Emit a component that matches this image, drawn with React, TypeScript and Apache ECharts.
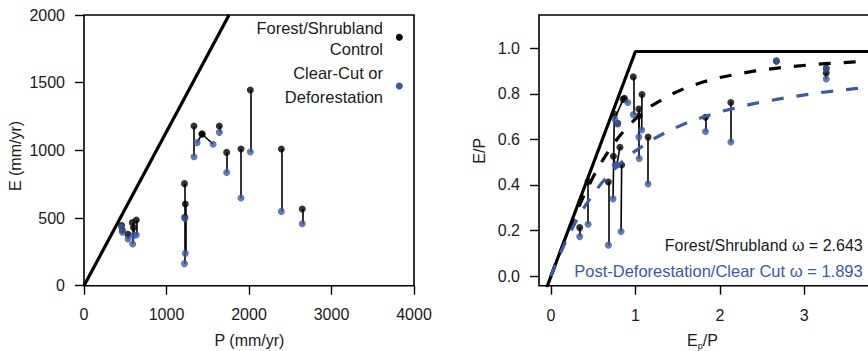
import React, { useEffect, useRef } from "react";
import * as echarts from "echarts";

// ---------- Left panel: P vs E (mm/yr) ----------
const leftControlP = [455, 465, 533, 586, 600, 634, 1218, 1228, 1222, 1333, 1431, 1431, 1640, 1729, 1903, 2016, 2392, 2646];
const leftControlE = [445, 410, 379, 466, 430, 485, 754, 603, 505, 1180, 1121, 1121, 1180, 985, 1010, 1446, 1010, 567];
const leftClearP = [455, 465, 533, 590, 600, 634, 1218, 1228, 1222, 1333, 1371, 1565, 1640, 1729, 1903, 2016, 2392, 2646];
const leftClearE = [432, 395, 345, 308, 370, 374, 163, 239, 497, 953, 1057, 1045, 1133, 837, 648, 988, 549, 458];
const leftLimitP = [0, 1758];
const leftLimitE = [0, 2000];

// ---------- Right panel: Ep/P vs E/P ----------
const rightControlX = [0.34, 0.44, 0.68, 0.75, 0.74, 0.855, 0.817, 0.837, 0.79, 0.975, 0.87, 1.078, 1.04, 1.045, 1.15, 1.83, 2.13, 2.67, 3.26, 3.26];
const rightControlY = [0.216, 0.421, 0.419, 0.722, 0.534, 0.787, 0.574, 0.495, 0.68, 0.887, 0.792, 0.809, 0.744, 0.714, 0.619, 0.707, 0.773, 0.957, 0.904, 0.925];
const rightClearX = [0.34, 0.44, 0.68, 0.735, 0.76, 0.755, 0.78, 0.83, 0.79, 0.975, 0.91, 1.074, 1.04, 1.045, 1.15, 1.83, 2.13, 2.67, 3.26, 3.26];
const rightClearY = [0.176, 0.231, 0.138, 0.344, 0.495, 0.7, 0.495, 0.199, 0.677, 0.719, 0.773, 0.651, 0.619, 0.524, 0.41, 0.644, 0.597, 0.96, 0.878, 0.923];

const limitX = [-0.05, 1, 4.5];
const limitY = [-0.05, 1, 1];

const curveX = [0, 0.1, 0.2, 0.3, 0.4, 0.5, 0.6, 0.7, 0.8, 0.9, 1.0, 1.2, 1.4, 1.6, 1.8, 2.0, 2.4, 2.8, 3.2, 3.6, 4.0];
const forestCurveY = [0, 0.0991, 0.1946, 0.2845, 0.3673, 0.4422, 0.5089, 0.5674, 0.6184, 0.6623, 0.7001, 0.7605, 0.8053, 0.8388, 0.8644, 0.8844, 0.9128, 0.9315, 0.9449, 0.954, 0.962];
const clearCurveY = [0, 0.0933, 0.1752, 0.2472, 0.3104, 0.3658, 0.4144, 0.4572, 0.4949, 0.5282, 0.5578, 0.6078, 0.648, 0.6811, 0.7084, 0.7315, 0.7682, 0.7958, 0.8176, 0.835, 0.8494];

const leftXTicks = { min: 0, max: 4000, interval: 1000 };
const leftYTicks = { min: 0, max: 2000, interval: 500 };
const rightXTicks = { min: 0, max: 4, interval: 1 };
const rightYTicks = { min: 0, max: 1, interval: 0.2 };

const FONT = "'Liberation Sans', Arial, Helvetica, sans-serif";
const BLUE = "#3a5aa8";
const BLACK = "#000000";
const TEXT = "#1a1a1a";

const tickStyle = { show: true, inside: false, length: 9, lineStyle: { color: BLACK, width: 1.4 } };
const labelStyle = { fontSize: 16, fontFamily: FONT, color: TEXT };
const noBounds = { outerBoundsMode: "none", containLabel: false };

function buildOption() {
  const pairs = (x1: number[], y1: number[], x2: number[], y2: number[]) =>
    x1.map((x, i) => ({ coords: [[x, y1[i]], [x2[i], y2[i]]] }));
  const zip = (a: number[], b: number[]) => a.map((v, i) => [v, b[i]]);

  return {
    animation: false,
    backgroundColor: "#ffffff",
    grid: [
      // 0: left panel
      { left: 84, width: 330, top: 15, height: 270.7, show: true, borderColor: BLACK, borderWidth: 1.6, backgroundColor: "transparent", ...noBounds },
      // 1: right panel data box
      { left: 539, width: 349.7, top: 15, height: 270.7, show: true, borderColor: BLACK, borderWidth: 1.6, backgroundColor: "transparent", ...noBounds },
      // 2: right panel x ticks (0..4)
      { left: 551, width: 337.7, top: 15, height: 270.7, show: false, ...noBounds },
      // 3: right panel y ticks (0..1)
      { left: 539, width: 349.7, top: 48.3, height: 227.7, show: false, ...noBounds },
    ],
    xAxis: [
      {
        gridIndex: 0, type: "value", ...leftXTicks,
        axisLine: { show: false }, axisTick: tickStyle, splitLine: { show: false },
        axisLabel: { ...labelStyle, margin: 21, formatter: (v: number) => String(v) },
      },
      { gridIndex: 1, type: "value", min: -0.142, max: 4, show: false, splitLine: { show: false } },
      {
        gridIndex: 2, type: "value", ...rightXTicks,
        axisLine: { show: false }, axisTick: tickStyle, splitLine: { show: false },
        axisLabel: { ...labelStyle, margin: 22, showMaxLabel: false, formatter: (v: number) => String(v) },
      },
      { gridIndex: 3, type: "value", min: 0, max: 1, show: false, splitLine: { show: false } },
    ],
    yAxis: [
      {
        gridIndex: 0, type: "value", ...leftYTicks,
        axisLine: { show: false }, axisTick: tickStyle, splitLine: { show: false },
        axisLabel: { ...labelStyle, margin: 19, formatter: (v: number) => String(v) },
      },
      { gridIndex: 1, type: "value", min: -0.0426, max: 1.1626, show: false, splitLine: { show: false } },
      { gridIndex: 2, type: "value", min: 0, max: 1, show: false, splitLine: { show: false } },
      {
        gridIndex: 3, type: "value", ...rightYTicks,
        axisLine: { show: false }, axisTick: tickStyle, splitLine: { show: false },
        axisLabel: { ...labelStyle, margin: 19, formatter: (v: number) => v.toFixed(1) },
      },
    ],
    series: [
      // Left panel
      {
        type: "line", xAxisIndex: 0, yAxisIndex: 0, data: zip(leftLimitP, leftLimitE),
        symbol: "none", lineStyle: { color: BLACK, width: 3.2 }, silent: true,
      },
      {
        type: "lines", coordinateSystem: "cartesian2d", xAxisIndex: 0, yAxisIndex: 0,
        data: pairs(leftControlP, leftControlE, leftClearP, leftClearE),
        lineStyle: { color: BLACK, width: 1.6, opacity: 1 }, silent: true,
      },
      {
        name: "Forest/Shrubland Control", type: "scatter", xAxisIndex: 0, yAxisIndex: 0,
        data: zip(leftControlP, leftControlE), symbolSize: 7, itemStyle: { color: BLACK },
      },
      {
        name: "Clear-Cut or Deforestation", type: "scatter", xAxisIndex: 0, yAxisIndex: 0,
        data: zip(leftClearP, leftClearE), symbolSize: 7, itemStyle: { color: BLUE },
      },
      // Right panel
      {
        type: "line", xAxisIndex: 1, yAxisIndex: 1, data: zip(limitX, limitY),
        symbol: "none", lineStyle: { color: BLACK, width: 3.2 }, silent: true,
      },
      {
        type: "line", xAxisIndex: 1, yAxisIndex: 1, data: zip(curveX, forestCurveY),
        symbol: "none", smooth: false,
        lineStyle: { color: BLACK, width: 3.2, type: [12, 13] }, silent: true,
      },
      {
        type: "line", xAxisIndex: 1, yAxisIndex: 1, data: zip(curveX, clearCurveY),
        symbol: "none", smooth: false,
        lineStyle: { color: BLUE, width: 3.2, type: [12, 13] }, silent: true,
      },
      {
        type: "lines", coordinateSystem: "cartesian2d", xAxisIndex: 1, yAxisIndex: 1,
        data: pairs(rightControlX, rightControlY, rightClearX, rightClearY),
        lineStyle: { color: BLACK, width: 1.6, opacity: 1 }, silent: true,
      },
      {
        name: "Forest/Shrubland", type: "scatter", xAxisIndex: 1, yAxisIndex: 1,
        data: zip(rightControlX, rightControlY), symbolSize: 7, itemStyle: { color: BLACK },
      },
      {
        name: "Post-Deforestation/Clear Cut", type: "scatter", xAxisIndex: 1, yAxisIndex: 1,
        data: zip(rightClearX, rightClearY), symbolSize: 7, itemStyle: { color: BLUE },
      },
    ],
    graphic: [
      // Left legend
      { type: "text", style: { text: "Forest/Shrubland", x: 383, y: 28, align: "right", verticalAlign: "middle", fontSize: 16.5, fontFamily: FONT, fill: TEXT } },
      { type: "text", style: { text: "Control", x: 383, y: 48.5, align: "right", verticalAlign: "middle", fontSize: 16.5, fontFamily: FONT, fill: TEXT } },
      { type: "text", style: { text: "Clear-Cut or", x: 383, y: 72.5, align: "right", verticalAlign: "middle", fontSize: 16.5, fontFamily: FONT, fill: TEXT } },
      { type: "text", style: { text: "Deforestation", x: 383, y: 96.7, align: "right", verticalAlign: "middle", fontSize: 16.5, fontFamily: FONT, fill: TEXT } },
      { type: "circle", shape: { cx: 399.3, cy: 37.3, r: 3.5 }, style: { fill: BLACK } },
      { type: "circle", shape: { cx: 399.3, cy: 86, r: 3.5 }, style: { fill: BLUE } },
      // Left axis titles
      { type: "text", style: { text: "P (mm/yr)", x: 249.5, y: 340, align: "center", verticalAlign: "middle", fontSize: 16, fontFamily: FONT, fill: TEXT } },
      { type: "text", x: 15.5, y: 156, rotation: Math.PI / 2, style: { text: "E (mm/yr)", x: 0, y: 0, align: "center", verticalAlign: "middle", fontSize: 16, fontFamily: FONT, fill: TEXT } },
      // Right axis titles
      { type: "text", x: 479.5, y: 150.8, rotation: Math.PI / 2, style: { text: "E/P", x: 0, y: 0, align: "center", verticalAlign: "middle", fontSize: 16, fontFamily: FONT, fill: TEXT } },
      {
        type: "text",
        style: {
          text: "{a|E}{b|p}{a|/P}", x: 702.5, y: 340, align: "center", verticalAlign: "middle",
          fontSize: 16, fontFamily: FONT, fill: TEXT,
          rich: {
            a: { fontSize: 16, fontFamily: FONT, fill: TEXT, lineHeight: 20, verticalAlign: "middle" },
            b: { fontSize: 9, fontFamily: FONT, fill: TEXT, lineHeight: 9, verticalAlign: "bottom" },
          },
        },
      },
      // Right annotations
      { type: "text", style: { text: "Forest/Shrubland ω = 2.643", x: 862.7, y: 245.8, align: "right", verticalAlign: "middle", fontSize: 16, fontFamily: FONT, fill: TEXT } },
      { type: "text", style: { text: "Post-Deforestation/Clear Cut ω = 1.893", x: 862.7, y: 270.8, align: "right", verticalAlign: "middle", fontSize: 16.5, fontFamily: FONT, fill: BLUE } },
    ],
  };
}

export default function App() {
  const ref = useRef<HTMLDivElement>(null);
  useEffect(() => {
    if (!ref.current) return;
    document.body.style.margin = "0";
    const chart = echarts.init(ref.current, null, { renderer: "svg" });
    chart.setOption(buildOption() as any);
    return () => chart.dispose();
  }, []);
  return (
    <div
      ref={ref}
      style={{ position: "absolute", left: 0, top: 0, width: 868, height: 351, background: "#fff", overflow: "hidden" }}
    />
  );
}
